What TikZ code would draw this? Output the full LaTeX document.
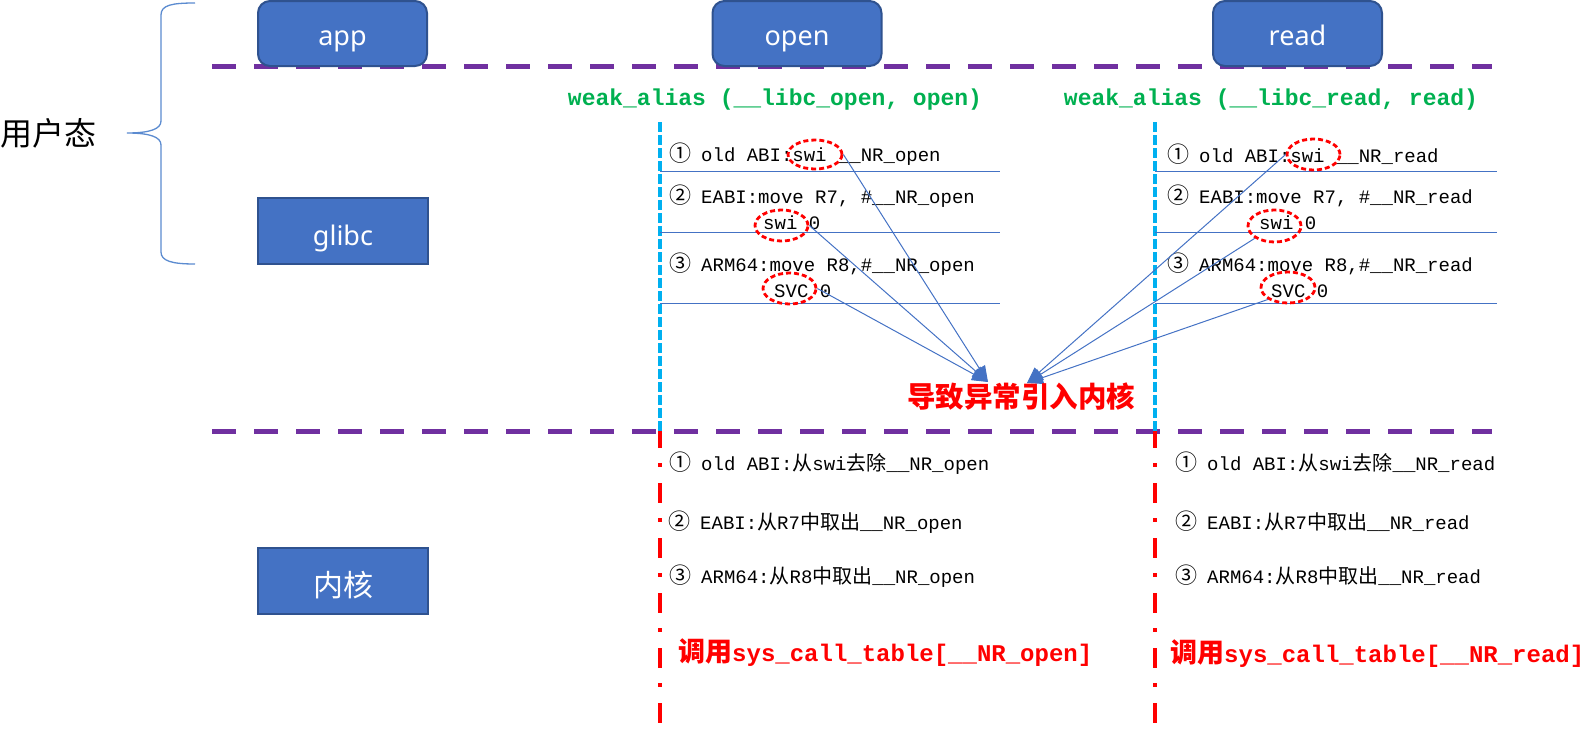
\documentclass[tikz,border=0pt]{standalone}
\usepackage{fontspec}
\setmainfont{Liberation Sans}
\newfontfamily\monof{Liberation Mono}
\newfontfamily\cjkf{Noto Sans CJK SC}
\newfontfamily\lblf{Noto Sans}
\usetikzlibrary{arrows.meta,shapes.geometric}
\definecolor{boxblue}{HTML}{4472C4}
\definecolor{boxedge}{HTML}{2F528F}
\definecolor{purp}{HTML}{7030A0}
\definecolor{cyanl}{HTML}{00B0F0}
\definecolor{grn}{HTML}{00B050}
\definecolor{lineblue}{HTML}{4472C4}
\definecolor{bracec}{HTML}{5B8BD0}
\newcommand\Tm[1]{{\monof\fontsize{19}{19}\selectfont #1}}
\newcommand\Tc[1]{{\cjkf\fontsize{20}{20}\selectfont #1}}
\newcommand\Cn[1]{{\cjkf\fontsize{22}{22}\selectfont #1}\hspace{10pt}}
\newcommand\Rb[2]{{\cjkf\bfseries\fontsize{27}{27}\selectfont #1}{\monof\bfseries\fontsize{24}{24}\selectfont #2}}
\begin{document}
\begin{tikzpicture}[x=1pt,y=-1pt,
  topbox/.style={rectangle,rounded corners=12pt,fill=boxblue,draw=boxedge,line width=2pt,minimum width=169pt,minimum height=65pt,text=white,font=\lblf\fontsize{27}{27}\selectfont,text height=24pt,text depth=0pt},
  sqbox/.style={rectangle,fill=boxblue,draw=boxedge,line width=2pt,minimum width=170pt,minimum height=66pt,text=white,font=\lblf\fontsize{27}{27}\selectfont,text height=28pt,text depth=0pt},
  txt/.style={anchor=west,inner sep=0pt},
  oval/.style={ellipse,draw=red,line width=2.8pt,dash pattern=on 5pt off 3pt,inner sep=0pt},
  ptr/.style={draw=lineblue,line width=1pt,-{Triangle[length=16pt,width=13pt]}},
  purpline/.style={draw=purp,line width=5pt,dash pattern=on 24pt off 18pt},
  cyline/.style={draw=cyanl,line width=4pt,dash pattern=on 10pt off 3pt},
  redline/.style={draw=red,line width=4.5pt,dash pattern=on 20pt off 15pt on 4pt off 16pt,dash phase=3pt},
  sepline/.style={draw=lineblue,line width=1pt},
  bracel/.style={draw=bracec,line width=1.3pt}
]
\useasboundingbox (0,0) rectangle (1587,742);

% purple separators
\coordinate (p1a) at (212,66); \coordinate (p1b) at (1492,66);
\coordinate (p2a) at (212,431); \coordinate (p2b) at (1492,431);
\draw[purpline] (p1a) -- (p1b);
\draw[purpline] (p2a) -- (p2b);

% boxes
\node[topbox] (app) at (342.5,33.5) {app};
\node[topbox] (open) at (797,33.5) {open};
\node[topbox] (read) at (1297.5,33.5) {read};
\node[sqbox] (glibc) at (343,231) {glibc};
\node[sqbox,font=\cjkf\fontsize{30}{30}\selectfont,text height=31pt] (kernel) at (343,581) {内核};

% brace and label
\draw[bracel] (195,3) .. controls (172,3) and (161,5) .. (161,15) -- (161,121)
  .. controls (161,129) and (150,133) .. (127,133)
  .. controls (150,133) and (161,137) .. (161,145) -- (161,252)
  .. controls (161,261) and (172,264) .. (195,264);
\node[txt,font=\cjkf\fontsize{32}{32}\selectfont] (user) at (0,133) {用户态};

% vertical lines
\coordinate (vo1) at (660,122); \coordinate (vo2) at (660,431); \coordinate (vo3) at (660,736);
\coordinate (vr1) at (1155,122); \coordinate (vr2) at (1155,431); \coordinate (vr3) at (1155,736);
\draw[cyline] (vo1) -- (vo2);
\draw[cyline] (vr1) -- (vr2);
\draw[redline] (vo2) -- (vo3);
\draw[redline] (vr2) -- (vr3);

% separators
\coordinate (so1a) at (660,171); \coordinate (so1b) at (1000,171);
\coordinate (so2a) at (660,232); \coordinate (so2b) at (1000,232);
\coordinate (so3a) at (660,303); \coordinate (so3b) at (1000,303);
\coordinate (sr1a) at (1155,171); \coordinate (sr1b) at (1497,171);
\coordinate (sr2a) at (1155,232); \coordinate (sr2b) at (1497,232);
\coordinate (sr3a) at (1155,303); \coordinate (sr3b) at (1497,303);
\draw[sepline] (so1a) -- (so1b); \draw[sepline] (so2a) -- (so2b); \draw[sepline] (so3a) -- (so3b);
\draw[sepline] (sr1a) -- (sr1b); \draw[sepline] (sr2a) -- (sr2b); \draw[sepline] (sr3a) -- (sr3b);

% green headings
\node[inner sep=0pt,text=grn,font=\monof\bfseries\fontsize{23}{23}\selectfont] (wo) at (775,100) {weak\_alias (\_\_libc\_open, open)};
\node[inner sep=0pt,text=grn,font=\monof\bfseries\fontsize{23}{23}\selectfont] (wr) at (1271,100) {weak\_alias (\_\_libc\_read, read)};

% open column texts
\node[txt] (ot1) at (669,154) {\Cn{①}\Tm{old ABI:swi \_\_NR\_open}};
\node[txt] (ot2) at (669,196) {\Cn{②}\Tm{EABI:move R7, \#\_\_NR\_open}};
\node[txt] (ot2b) at (763,223) {\Tm{swi 0}};
\node[txt] (ot3) at (669,264) {\Cn{③}\Tm{ARM64:move R8,\#\_\_NR\_open}};
\node[txt] (ot3b) at (774,291) {\Tm{SVC 0}};
% read column texts
\node[txt] (rt1) at (1167,154) {\Cn{①}\Tm{old ABI:swi \_\_NR\_read}};
\node[txt] (rt2) at (1167,196) {\Cn{②}\Tm{EABI:move R7, \#\_\_NR\_read}};
\node[txt] (rt2b) at (1259,223) {\Tm{swi 0}};
\node[txt] (rt3) at (1167,264) {\Cn{③}\Tm{ARM64:move R8,\#\_\_NR\_read}};
\node[txt] (rt3b) at (1271,291) {\Tm{SVC 0}};

% ellipses
\node[oval,minimum width=54pt,minimum height=29pt] (eo1) at (815,154.5) {};
\node[oval,minimum width=53pt,minimum height=31pt] (eo2) at (781.5,225.5) {};
\node[oval,minimum width=53pt,minimum height=31pt] (eo3) at (789.5,288.5) {};
\node[oval,minimum width=53pt,minimum height=31pt] (er1) at (1313.5,154.5) {};
\node[oval,minimum width=53pt,minimum height=32pt] (er2) at (1274.5,226) {};
\node[oval,minimum width=54pt,minimum height=31pt] (er3) at (1288,287.5) {};

% arrows
\coordinate (tipo) at (988,382);
\coordinate (tipr) at (1027,383);
\draw[ptr] (eo1.east) -- (tipo);
\draw[ptr] (eo2.east) -- (tipo);
\draw[ptr] (eo3.east) -- (tipo);
\draw[ptr] (er1.west) -- (tipr);
\draw[ptr] (er2.south west) -- (tipr);
\draw[ptr] (er3.south west) -- (tipr);

\node[inner sep=0pt,text=red,font=\cjkf\bfseries\fontsize{28.5}{28.5}\selectfont] (exc) at (1021,397) {导致异常引入内核};

% kernel texts open
\node[txt] (ko1) at (669,463) {\Cn{①}\Tm{old ABI:}\Tc{从}\Tm{swi}\Tc{去除}\Tm{\_\_NR\_open}};
\node[txt] (ko2) at (668,522) {\Cn{②}\Tm{EABI:}\Tc{从}\Tm{R7}\Tc{中取出}\Tm{\_\_NR\_open}};
\node[txt] (ko3) at (669,576) {\Cn{③}\Tm{ARM64:}\Tc{从}\Tm{R8}\Tc{中取出}\Tm{\_\_NR\_open}};
\node[txt,text=red] (ko4) at (678,653) {\Rb{调用}{sys\_call\_table[\_\_NR\_open]}};
% kernel texts read
\node[txt] (kr1) at (1175,462) {\Cn{①}\Tm{old ABI:}\Tc{从}\Tm{swi}\Tc{去除}\Tm{\_\_NR\_read}};
\node[txt] (kr2) at (1175,521) {\Cn{②}\Tm{EABI:}\Tc{从}\Tm{R7}\Tc{中取出}\Tm{\_\_NR\_read}};
\node[txt] (kr3) at (1175,575) {\Cn{③}\Tm{ARM64:}\Tc{从}\Tm{R8}\Tc{中取出}\Tm{\_\_NR\_read}};
\node[txt,text=red] (kr4) at (1170,654) {\Rb{调用}{sys\_call\_table[\_\_NR\_read]}};
\end{tikzpicture}
\end{document}
